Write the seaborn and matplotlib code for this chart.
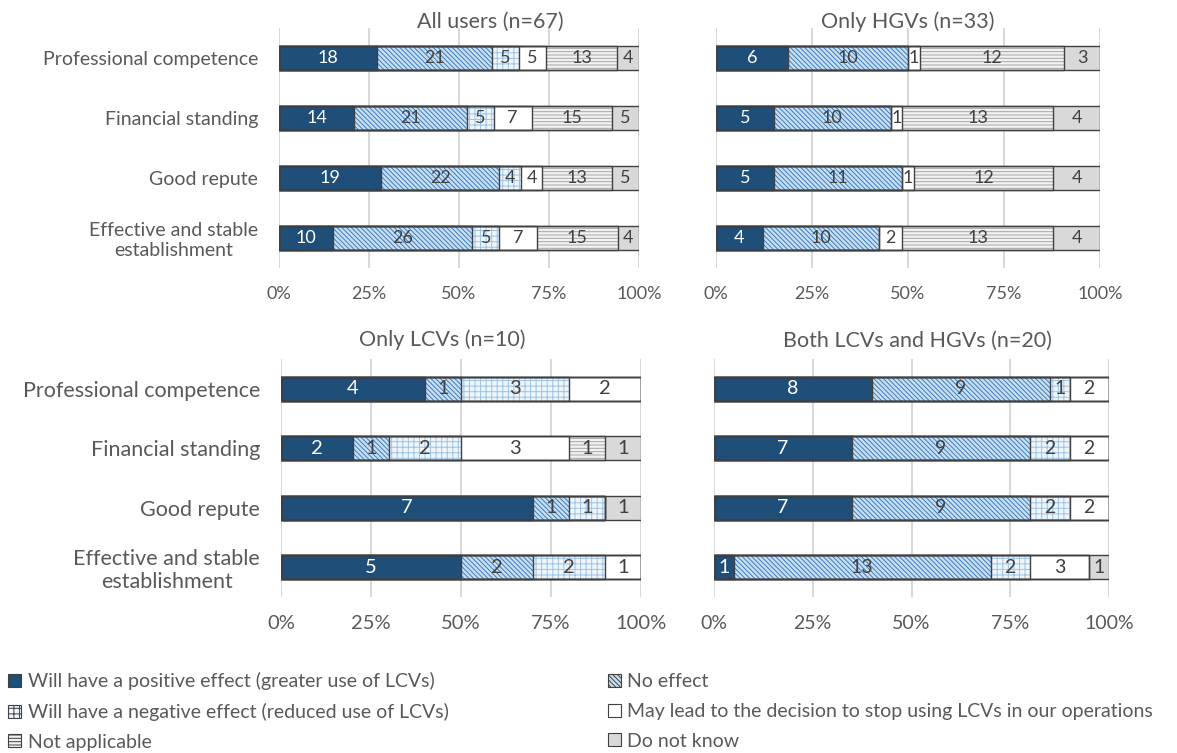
import numpy as np
import pandas as pd
import matplotlib.pyplot as plt
from matplotlib.patches import Patch
import seaborn as sns

criteria = ["Professional competence", "Financial standing", "Good repute",
            "Effective and stable\nestablishment"]
responses = ["Will have a positive effect (greater use of LCVs)",
             "No effect",
             "Will have a negative effect (reduced use of LCVs)",
             "May lead to the decision to stop using LCVs in our operations",
             "Not applicable",
             "Do not know"]

# counts per criterion, columns follow `responses`
all_users = [[18, 21, 5, 5, 13, 4],
             [14, 21, 5, 7, 15, 5],
             [19, 22, 4, 4, 13, 5],
             [10, 26, 5, 7, 15, 4]]
only_hgv = [[6, 10, 0, 1, 12, 3],
            [5, 10, 0, 1, 13, 4],
            [5, 11, 0, 1, 12, 4],
            [4, 10, 0, 2, 13, 4]]
only_lcv = [[4, 1, 3, 2, 0, 0],
            [2, 1, 2, 3, 1, 1],
            [7, 1, 1, 0, 0, 1],
            [5, 2, 2, 1, 0, 0]]
both = [[8, 9, 1, 2, 0, 0],
        [7, 9, 2, 2, 0, 0],
        [7, 9, 2, 2, 0, 0],
        [1, 13, 2, 3, 0, 1]]

fills = ["#1F4E79", "#C9DFF2", "#EEF5FB", "#FFFFFF", "#F2F2F2", "#D9D9D9"]
hatch_cols = ["#1F4E79", "#3A7BC0", "#9DC3E6", "#FFFFFF", "#A6A6A6", "#D9D9D9"]
hatches = [None, "\\\\\\\\\\\\\\", "+++", None, "-----", None]
outline = "#404040"
txt = "#595959"

sns.set_style("white")
plt.rcParams["font.family"] = ["Lato", "DejaVu Sans"]
plt.rcParams["hatch.linewidth"] = 0.7


def draw_panel(ax, counts, title, show_y, fs, title_pad, title_x):
    counts = np.array(counts, dtype=float)
    pct = counts / counts.sum(axis=1, keepdims=True) * 100
    cum = pct.cumsum(axis=1)
    df = pd.DataFrame(cum, columns=responses)
    df["criterion"] = criteria

    # stacked look: draw cumulative bars from the longest down
    for k in range(len(responses) - 1, -1, -1):
        n0 = len(ax.patches)
        sns.barplot(data=df, x=responses[k], y="criterion", orient="h",
                    color=fills[k], saturation=1, width=0.4, ax=ax)
        for p in ax.patches[n0:]:
            p.set_facecolor(fills[k])
            p.set_edgecolor(hatch_cols[k])
            p.set_linewidth(0)
            if hatches[k]:
                p.set_hatch(hatches[k])
    # segment outlines
    for k in range(len(responses)):
        n0 = len(ax.patches)
        sns.barplot(data=df, x=responses[k], y="criterion", orient="h",
                    color=outline, width=0.4, ax=ax)
        for p in ax.patches[n0:]:
            p.set_facecolor("none")
            p.set_edgecolor(outline)
            p.set_linewidth(1.0)

    for i in range(len(criteria)):
        for k in range(len(responses)):
            if counts[i, k] > 0:
                ax.text(cum[i, k] - pct[i, k] / 2, i, f"{int(counts[i, k])}",
                        ha="center", va="center", fontsize=fs - 1,
                        color="white" if k == 0 else "#404040")

    ax.set_xlim(0, 100)
    ax.set_xticks([0, 25, 50, 75, 100])
    ax.set_xticklabels(["0%", "25%", "50%", "75%", "100%"])
    ax.grid(axis="x", color="#D9D9D9", linewidth=1.5)
    ax.set_axisbelow(True)
    for s in ax.spines.values():
        s.set_visible(False)
    ax.tick_params(axis="x", length=0, labelsize=fs - 1, colors=txt, pad=13)
    ax.tick_params(axis="y", length=0, labelsize=fs, colors=txt, pad=15)
    ax.set_xlabel("")
    ax.set_ylabel("")
    if show_y:
        for lbl in ax.get_yticklabels():
            lbl.set_multialignment("center")
    else:
        ax.set_yticklabels([])
    ax.set_title(title, fontsize=15.5, color=txt, pad=title_pad, x=title_x)


fig = plt.figure(figsize=(11.77, 7.53), dpi=100)
W, H = 1177, 753


def box(x0, x1, y0, y1):
    return [x0 / W, 1 - y1 / H, (x1 - x0) / W, (y1 - y0) / H]


ax1 = fig.add_axes(box(279, 639, 28, 268))
ax2 = fig.add_axes(box(716, 1100, 28, 268))
ax3 = fig.add_axes(box(281, 641, 359, 597))
ax4 = fig.add_axes(box(714, 1109, 359, 597))

draw_panel(ax1, all_users, "All users (n=67)", True, 14, 0, 0.586)
draw_panel(ax2, only_hgv, "Only HGVs (n=33)", False, 14, 0, 0.5)
draw_panel(ax3, only_lcv, "Only LCVs (n=10)", True, 15.5, 9, 0.447)
draw_panel(ax4, both, "Both LCVs and HGVs (n=20)", False, 15, 9, 0.515)

handles = [Patch(facecolor=fills[k], edgecolor=outline, hatch=hatches[k],
                 linewidth=0.8, label=responses[k]) for k in range(len(responses))]
order = [0, 2, 4, 1, 3, 5]
fig.legend([handles[i] for i in order], [responses[i] for i in order],
           loc="upper left", bbox_to_anchor=(0.007, 1 - 672 / H), ncol=2,
           frameon=False, fontsize=14, handlelength=0.65, handleheight=0.65,
           handletextpad=0.35, labelspacing=0.66, columnspacing=8.2,
           borderaxespad=0, borderpad=0, labelcolor=txt)

fig.savefig("out.png", dpi=100)
